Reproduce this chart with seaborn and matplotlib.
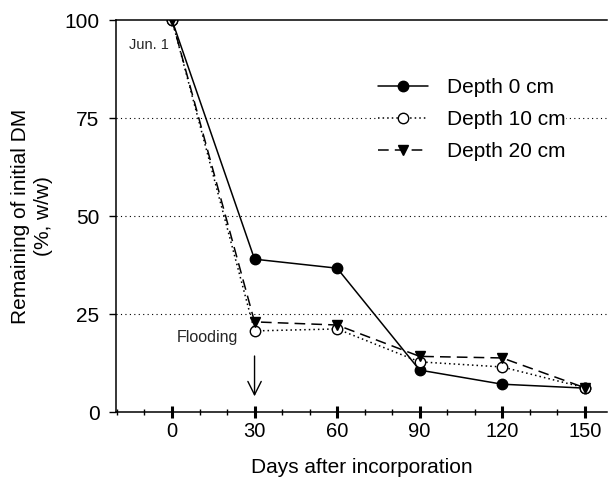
import matplotlib
matplotlib.use("Agg")
import matplotlib.pyplot as plt
import seaborn as sns
import pandas as pd
from matplotlib.ticker import MultipleLocator

days = [0, 30, 60, 90, 120, 150]
depth0 = [100, 39, 36.7, 10.7, 7.1, 6.1]
depth10 = [100, 20.7, 21.2, 12.8, 11.5, 6.2]
depth20 = [100, 23, 22.2, 14.2, 13.8, 6.2]
series_names = ["Depth 0 cm", "Depth 10 cm", "Depth 20 cm"]
yticks = [0, 25, 50, 75, 100]
xticks = [0, 30, 60, 90, 120, 150]

sns.set_theme(style="white")
plt.rcParams['font.family'] = ['Liberation Sans', 'DejaVu Sans']

fig = plt.figure(figsize=(6.08, 4.78), dpi=100)
ax = fig.add_axes([0.191, 0.138, 0.807, 0.82])

for yv in [25, 50, 75]:
    ax.axhline(yv, color="black", lw=0.8, ls=(0, (1, 3)), zorder=0)

styles = [
    dict(marker="o", ls="-", mfc="black", ms=7.5),
    dict(marker="o", ls=(0, (1, 2)), mfc="white", ms=7.5),
    dict(marker="v", ls=(0, (7, 4)), mfc="black", ms=7.5),
]
for vals, name, st in zip([depth0, depth10, depth20], series_names, styles):
    df = pd.DataFrame({"day": days, "val": vals})
    sns.lineplot(data=df, x="day", y="val", ax=ax, color="black", lw=1.1,
                 marker=st["marker"], linestyle=st["ls"], markersize=st["ms"],
                 markerfacecolor=st["mfc"], markeredgecolor="black",
                 markeredgewidth=1.0, label=name)

ax.set_xlim(-20.3, 158)
ax.set_ylim(0, 100)
ax.set_xticks(xticks)
ax.set_yticks(yticks)
ax.xaxis.set_minor_locator(MultipleLocator(10))
ax.tick_params(bottom=True, left=True, which="both", colors="black", labelcolor="black")
ax.tick_params(axis="x", which="major", direction="inout", length=9, width=2.2, labelsize=14.5, pad=3)
ax.tick_params(axis="x", which="minor", direction="inout", length=4, width=1)
ax.tick_params(axis="y", which="major", direction="out", length=5, width=1, labelsize=15, pad=7)
for s in ["left", "bottom", "top"]:
    ax.spines[s].set_color("black")
    ax.spines[s].set_linewidth(1.1)
ax.spines["right"].set_visible(False)

ax.set_xlabel("Days after incorporation", fontsize=15, labelpad=12, color="black")
ax.set_ylabel("Remaining of initial DM\n(%, w/w)", fontsize=15, labelpad=8,
              color="black", linespacing=1.3)

ax.text(-15.6, 93.6, "Jun. 1", fontsize=10.5, ha="left", va="center")
ax.text(13, 19.0, "Flooding", fontsize=11.5, ha="center", va="center")
ax.annotate("", xy=(30, 3.3), xytext=(30, 15),
            arrowprops=dict(arrowstyle="->", color="black", lw=1.0, mutation_scale=24))

leg = ax.legend(loc="upper left", bbox_to_anchor=(0.534, 0.852), frameon=True,
                facecolor="white", edgecolor="none", framealpha=1.0,
                borderpad=0.0, borderaxespad=0.0,
                fontsize=15, handlelength=2.4, labelspacing=0.62, handletextpad=0.9)
for t in leg.get_texts():
    t.set_color("black")

fig.savefig("out.png", dpi=100)
